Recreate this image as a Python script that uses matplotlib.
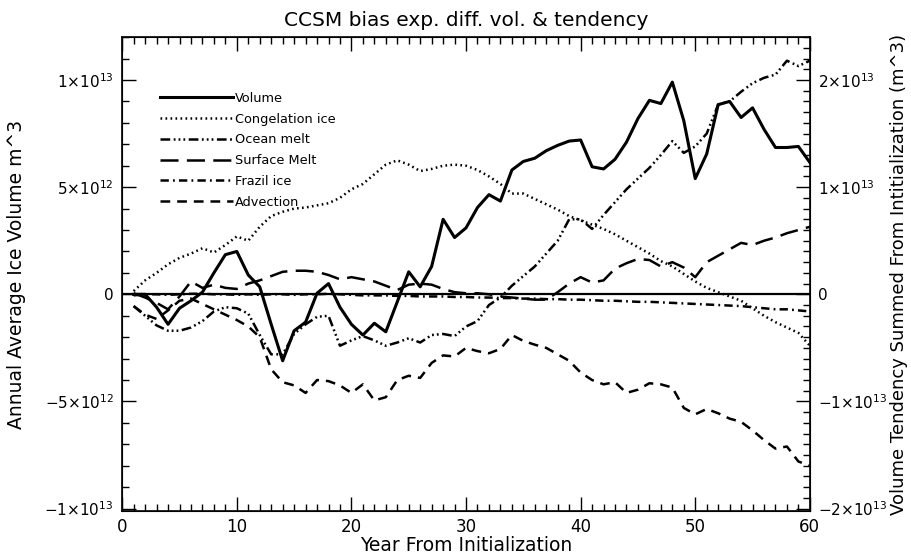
import numpy as np
import matplotlib
matplotlib.use("Agg")
import matplotlib.pyplot as plt
from matplotlib.ticker import MultipleLocator, FixedLocator

plt.rcParams['font.family'] = ['DejaVu Sans']
plt.rcParams['mathtext.fontset'] = 'dejavusans'
plt.rcParams['lines.scale_dashes'] = False

# Datos (unidades de 1e12 m^3)
years = list(range(1, 61))

volume = [0.0, 0.0, -0.6, -1.4, -0.65, -0.3, 0.1, 1.0, 1.85, 2.0,
          0.9, 0.35, -1.4, -3.1, -1.7, -1.3, 0.05, 0.5, -0.6, -1.4,
          -1.9, -1.35, -1.75, -0.35, 1.05, 0.35, 1.3, 3.5, 2.65, 3.1,
          4.05, 4.65, 4.35, 5.8, 6.2, 6.35, 6.7, 6.95, 7.15, 7.2,
          5.95, 5.85, 6.3, 7.1, 8.2, 9.05, 8.9, 9.9, 8.1, 5.4,
          6.55, 8.85, 9.0, 8.25, 8.7, 7.7, 6.85, 6.85, 6.9, 6.15]

congelation = [0.3, 1.3, 2.0, 2.8, 3.4, 3.8, 4.3, 3.9, 4.6, 5.4,
               5.0, 6.3, 7.3, 7.7, 8.0, 8.1, 8.3, 8.5, 9.0, 9.8,
               10.3, 11.2, 12.1, 12.5, 12.1, 11.5, 11.7, 12.0, 12.1, 12.0,
               11.6, 11.0, 10.3, 9.4, 9.4, 8.9, 8.4, 7.9, 7.3, 6.9,
               6.5, 6.1, 5.6, 5.0, 4.4, 3.8, 3.1, 2.6, 1.9, 1.2,
               0.6, 0.2, -0.2, -0.6, -1.3, -2.0, -2.6, -3.1, -3.6, -4.8]

ocean_melt = [-1.1, -2.0, -2.9, -3.4, -3.4, -3.1, -2.5, -1.6, -1.2, -1.3,
              -1.8, -3.8, -5.6, -5.6, -3.7, -2.8, -2.1, -2.0, -4.8, -4.3,
              -3.9, -4.3, -4.8, -4.5, -4.1, -4.5, -3.8, -3.7, -3.9, -3.0,
              -2.5, -1.0, -0.3, 0.8, 1.7, 2.6, 3.8, 5.0, 7.0, 7.0,
              6.1, 7.4, 8.6, 9.8, 10.8, 11.8, 13.0, 14.3, 13.2, 13.8,
              15.0, 17.7, 18.0, 18.9, 19.7, 20.2, 20.5, 21.8, 21.3, 21.8]

surface_melt = [0.1, -0.3, -0.8, -1.4, -0.2, 1.2, 0.6, 0.9, 0.6, 0.5,
                1.0, 1.3, 1.7, 2.1, 2.2, 2.2, 2.1, 1.8, 1.4, 1.6,
                1.4, 1.2, 0.8, 0.4, 0.9, 1.0, 0.9, 0.5, 0.2, 0.1,
                0.1, 0.0, -0.2, -0.3, -0.4, -0.5, -0.5, 0.2, 1.0, 1.6,
                1.1, 1.3, 2.4, 2.9, 3.3, 3.2, 2.6, 3.0, 2.5, 1.6,
                3.0, 3.6, 4.2, 4.8, 4.6, 5.0, 5.3, 5.7, 6.0, 6.3]

frazil = [-0.1, 0.0, 0.0, -0.05, 0.0, 0.05, 0.05, 0.0, 0.0, -0.05,
          0.0, -0.05, 0.0, 0.0, -0.05, 0.0, 0.0, 0.05, 0.0, -0.05,
          -0.1, -0.1, -0.1, -0.15, -0.15, -0.2, -0.2, -0.2, -0.25, -0.25,
          -0.3, -0.3, -0.35, -0.35, -0.4, -0.4, -0.45, -0.45, -0.5, -0.5,
          -0.55, -0.6, -0.6, -0.65, -0.7, -0.7, -0.75, -0.8, -0.85, -0.9,
          -0.95, -1.0, -1.05, -1.1, -1.2, -1.3, -1.4, -1.4, -1.5, -1.6]

advection = [-1.1, -1.9, -2.3, -1.5, -0.6, -0.4, -0.9, -1.4, -1.9, -2.4,
             -3.0, -4.0, -7.0, -8.2, -8.5, -9.2, -8.0, -8.1, -8.5, -9.2,
             -8.4, -9.9, -9.6, -8.0, -7.6, -7.8, -6.4, -5.7, -5.8, -5.0,
             -5.3, -5.5, -5.1, -3.8, -4.35, -4.7, -5.0, -5.6, -6.2, -7.3,
             -8.0, -8.4, -8.2, -9.2, -8.9, -8.3, -8.4, -8.7, -10.6, -11.2,
             -10.7, -11.1, -11.6, -11.9, -12.7, -13.6, -14.4, -14.2, -15.6, -16.0]

left_ticks = [-1e13, -5e12, 0, 5e12, 1e13]
left_labels = [r'$-1{\times}10^{13}$', r'$-5{\times}10^{12}$', '0',
               r'$5{\times}10^{12}$', r'$1{\times}10^{13}$']
right_ticks = [-2e13, -1e13, 0, 1e13, 2e13]
right_labels = [r'$-2{\times}10^{13}$', r'$-1{\times}10^{13}$', '0',
                r'$1{\times}10^{13}$', r'$2{\times}10^{13}$']

# Figura
fig = plt.figure(figsize=(9.12, 5.54), dpi=100)
ax = fig.add_axes([0.134, 0.078, 0.754, 0.855])
ax2 = ax.twinx()

e12 = 1e12
l_vol, = ax.plot(years, np.array(volume) * e12, color='k', lw=2.2, ls='-', label='Volume')
ax.axhline(0, color='k', lw=1.6)

l_con, = ax2.plot(years, np.array(congelation) * e12, color='k', lw=1.8,
                  ls=(0, (1.2, 2.4)), label='Congelation ice')
l_oce, = ax2.plot(years, np.array(ocean_melt) * e12, color='k', lw=1.8,
                  ls=(0, (7, 2.5, 1.3, 2.2, 1.3, 2.2, 1.3, 2.5)), label='Ocean melt')
l_sur, = ax2.plot(years, np.array(surface_melt) * e12, color='k', lw=1.8,
                  ls=(0, (13, 6)), label='Surface Melt')
l_fra, = ax2.plot(years, np.array(frazil) * e12, color='k', lw=1.8,
                  ls=(0, (6, 3, 1.3, 3)), label='Frazil ice')
l_adv, = ax2.plot(years, np.array(advection) * e12, color='k', lw=1.8,
                  ls=(0, (7, 5)), label='Advection')

ax.set_xlim(0, 60)
ax.set_ylim(-1.01e13, 1.2e13)
ax2.set_ylim(-2.02e13, 2.4e13)

ax.xaxis.set_major_locator(MultipleLocator(10))
ax.xaxis.set_minor_locator(MultipleLocator(1))
ax.yaxis.set_major_locator(FixedLocator(left_ticks))
ax.yaxis.set_minor_locator(MultipleLocator(1e12))
ax.set_yticklabels(left_labels)
ax2.yaxis.set_major_locator(FixedLocator(right_ticks))
ax2.yaxis.set_minor_locator(MultipleLocator(1e12))
ax2.set_yticklabels(right_labels)

ax.tick_params(which='both', direction='in', top=True, right=False, labelsize=11)
ax.tick_params(which='major', length=10, width=1, pad=6)
ax.tick_params(which='minor', length=5, width=1)
ax.tick_params(axis='x', which='major', pad=5, labelsize=12)
ax2.tick_params(which='both', direction='in', labelsize=11)
ax2.tick_params(which='major', length=10, width=1, pad=6)
ax2.tick_params(which='minor', length=5, width=1)

for sp in ax.spines.values():
    sp.set_linewidth(1.2)

ax.set_title('CCSM bias exp. diff. vol. & tendency', fontsize=14.5, pad=8)
ax.set_xlabel('Year From Initialization', fontsize=13.5, labelpad=0)
ax.set_ylabel('Annual Average Ice Volume m^3', fontsize=13.5)
ax.yaxis.set_label_coords(-0.14, 0.5)
ax2.set_ylabel('Volume Tendency Summed From Intitialization (m^3)', fontsize=13)
ax2.yaxis.set_label_coords(1.116, 0.5)

handles = [l_vol, l_con, l_oce, l_sur, l_fra, l_adv]
ax2.legend(handles, [h.get_label() for h in handles], loc='upper left',
           bbox_to_anchor=(0.045, 0.898), frameon=False, fontsize=9.3,
           handlelength=5.7, handletextpad=0.1, labelspacing=0.6, borderpad=0)

fig.savefig('out.png', dpi=100)
